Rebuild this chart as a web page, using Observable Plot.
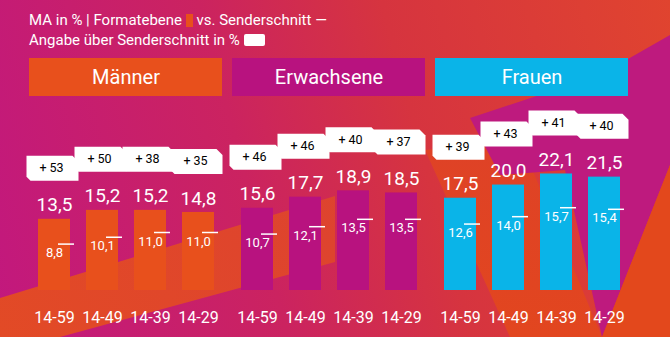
<!DOCTYPE html>
<html>
<head>
<meta charset="utf-8">
<script src="https://cdn.jsdelivr.net/npm/d3@7"></script>
<script src="https://cdn.jsdelivr.net/npm/@observablehq/plot@0.6"></script>
<style>
  html, body { margin: 0; padding: 0; }
  #wrap {
    position: relative; width: 670px; height: 337px; overflow: hidden;
    font-family: Roboto, "Noto Sans", sans-serif; color: white;
    background: linear-gradient(75deg, #C2187E 0%, #CB2360 38%, #D6343F 62%, #E0442F 100%);
  }
  .bg { position: absolute; left: 0; top: 0; width: 670px; height: 337px; }
  #bgA { background: linear-gradient(60deg, #E24A26 0%, #D93C38 100%);
         clip-path: polygon(0px 298px, 335px 196px, 335px 262px, 60px 337px, 0px 337px); }
  #bgB { background: linear-gradient(180deg, #DC3F2C 0%, #E2461F 100%);
         clip-path: polygon(425px 150px, 520px 140px, 602px 337px, 510px 337px); }
  #bgC { background: #BE1A7E;
         clip-path: polygon(470px 118px, 600px 75px, 670px 35px, 670px 165px, 602px 337px, 565px 170px, 500px 175px); }
  #bgD { background: #E3481C;
         clip-path: polygon(670px 165px, 670px 337px, 602px 337px); }
  #title { position: relative; height: 52px; box-sizing: border-box; padding: 10px 0 0 29px;
           font-size: 15px; line-height: 20px; }
  .sw1 { display: inline-block; width: 7px; height: 13px; background: #E8501C; vertical-align: -2px; }
  .sw2 { display: inline-block; width: 21px; height: 12px; background: white; border-radius: 2px; vertical-align: -1px; }
  #chart { position: relative; }
</style>
</head>
<body>
<div id="wrap">
  <div class="bg" id="bgA"></div>
  <div class="bg" id="bgB"></div>
  <div class="bg" id="bgC"></div>
  <div class="bg" id="bgD"></div>
  <div id="title">MA in % | Formatebene <span class="sw1"></span> vs. Senderschnitt —<br>Angabe über Senderschnitt in % <span class="sw2"></span></div>
  <div id="chart"></div>
</div>
<script>
const groups = ["Männer", "Erwachsene", "Frauen"];
const ages = ["14-59", "14-49", "14-39", "14-29"];
const formatValues = [
  [13.5, 15.2, 15.2, 14.8],
  [15.6, 17.7, 18.9, 18.5],
  [17.5, 20.0, 22.1, 21.5]
];
const senderValues = [
  [8.8, 10.1, 11.0, 11.0],
  [10.7, 12.1, 13.5, 13.5],
  [12.6, 14.0, 15.7, 15.4]
];
const aboveValues = [
  [53, 50, 38, 35],
  [46, 46, 40, 37],
  [39, 43, 41, 40]
];
const groupColors = ["#E8501C", "#B8127F", "#0AB4E8"];

const table = [];
groups.forEach((g, i) => ages.forEach((a, j) => table.push({
  group: g, age: a, value: formatValues[i][j], sender: senderValues[i][j], above: aboveValues[i][j]
})));

const fmt = v => v.toFixed(1).replace(".", ",");

const tagSymbol = {
  draw(ctx) {
    const w = 26, h = 12.5;
    ctx.moveTo(-w, -h);
    ctx.lineTo(w - 6, -h);
    ctx.lineTo(w, -h + 6);
    ctx.lineTo(w, h);
    ctx.lineTo(-w + 4, h);
    ctx.lineTo(-w, h - 4);
    ctx.closePath();
  }
};

const chart = Plot.plot({
  width: 670,
  height: 285,
  marginTop: 6,
  marginBottom: 47,
  marginLeft: 28,
  marginRight: 41,
  style: { background: "transparent", fontFamily: "Roboto, sans-serif", color: "white", overflow: "visible" },
  fx: { domain: groups, paddingInner: 0.05, paddingOuter: 0, axis: null, label: null },
  x: { domain: ages, paddingInner: 0.34, paddingOuter: 0.17, axis: null, label: null },
  y: { domain: [0, 44], axis: null },
  color: { domain: groups, range: groupColors },
  marks: [
    Plot.rect(groups, { fx: d => d, fill: d => d, insetBottom: 194 }),
    Plot.text(groups, { fx: d => d, text: d => d, frameAnchor: "top", dy: 19, lineAnchor: "middle", fontSize: 20, fill: "white" }),
    Plot.barY(table, { fx: "group", x: "age", y: "value", fill: "group" }),
    Plot.text(table, { fx: "group", x: "age", y: "value", text: d => fmt(d.value), dy: -14, lineAnchor: "middle", fontSize: 19, fill: "white" }),
    Plot.dot(table, { fx: "group", x: "age", y: "value", symbol: tagSymbol, r: 5, fill: "white", stroke: "none", dy: -51, dx: -2 }),
    Plot.text(table, { fx: "group", x: "age", y: "value", text: d => "+ " + d.above, dy: -51, dx: -3, lineAnchor: "middle", fontSize: 12.5, fill: "black" }),
    Plot.tickY(table, { fx: "group", x: "age", y: "sender", stroke: "white", strokeWidth: 1.5, dx: 20, insetRight: 16 }),
    Plot.text(table, { fx: "group", x: "age", y: "sender", text: d => fmt(d.sender), dy: 9, lineAnchor: "middle", fontSize: 13, fill: "white" }),
    Plot.axisX({ tickSize: 0, tickPadding: 21, fontSize: 16, fill: "white", label: null })
  ]
});
document.getElementById("chart").appendChild(chart);
</script>
</body>
</html>
